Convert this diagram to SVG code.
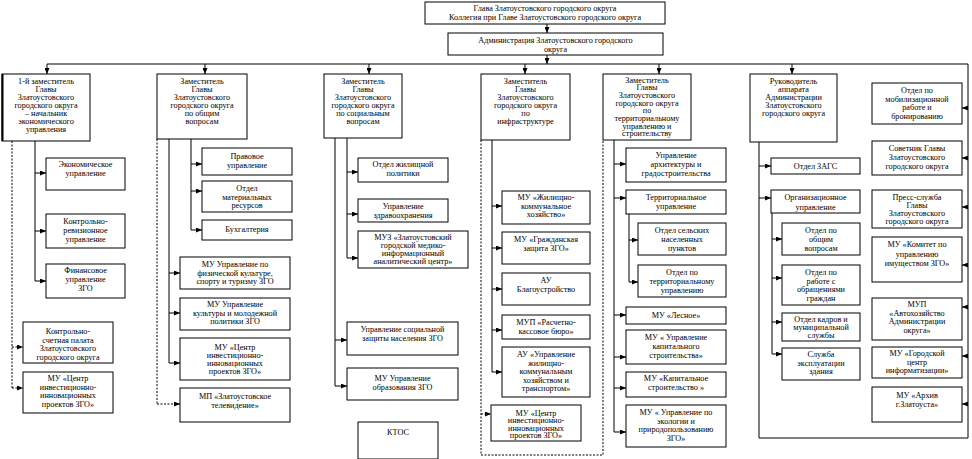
<svg xmlns="http://www.w3.org/2000/svg" width="972" height="459" viewBox="0 0 972 459">
<style>
.b{fill:#fff;stroke:#000;stroke-width:1}
.t{font-family:"Liberation Serif","Times New Roman",serif;font-size:8.2px;text-anchor:middle;fill:#000}
.c{stroke:#000;stroke-width:1;fill:none}
.d{stroke-dasharray:2 1.5}
</style>
<defs>
<marker id="a" markerWidth="6" markerHeight="5" refX="6" refY="2.5" orient="auto" markerUnits="userSpaceOnUse"><path d="M0,0 L6,2.5 L0,5z" fill="#000"/></marker>
</defs>
<rect width="972" height="459" fill="#fff"/>

<g id="connectors">
<line class="c" x1="547" y1="24" x2="547" y2="33" marker-end="url(#a)"/>
<line class="c" x1="547" y1="55" x2="547" y2="64" marker-end="url(#a)"/>
<polyline class="c" points="47,64 968,64 968,438 759,438"/>
<line class="c" x1="47" y1="64" x2="47" y2="74" marker-end="url(#a)"/>
<line class="c" x1="205" y1="64" x2="205" y2="74" marker-end="url(#a)"/>
<line class="c" x1="369" y1="64" x2="369" y2="74" marker-end="url(#a)"/>
<line class="c" x1="525" y1="64" x2="525" y2="74" marker-end="url(#a)"/>
<line class="c" x1="659" y1="64" x2="659" y2="74" marker-end="url(#a)"/>
<line class="c" x1="792" y1="64" x2="792" y2="74" marker-end="url(#a)"/>
<!-- col1 -->
<line class="c" x1="35" y1="141" x2="35" y2="281"/>
<line class="c" x1="35" y1="173" x2="46" y2="173" marker-end="url(#a)"/>
<line class="c" x1="35" y1="231" x2="46" y2="231" marker-end="url(#a)"/>
<line class="c" x1="35" y1="281" x2="46" y2="281" marker-end="url(#a)"/>
<line class="c d" x1="12" y1="141" x2="12" y2="388"/>
<line class="c d" x1="12" y1="347" x2="23" y2="347" marker-end="url(#a)"/>
<line class="c d" x1="12" y1="388" x2="23" y2="388" marker-end="url(#a)"/>
<!-- col2 -->
<line class="c" x1="191" y1="139" x2="191" y2="230"/>
<line class="c" x1="191" y1="164" x2="202" y2="164" marker-end="url(#a)"/>
<line class="c" x1="191" y1="191" x2="202" y2="191" marker-end="url(#a)"/>
<line class="c" x1="191" y1="230" x2="202" y2="230" marker-end="url(#a)"/>
<line class="c" x1="169" y1="139" x2="169" y2="363"/>
<line class="c" x1="169" y1="273" x2="180" y2="273" marker-end="url(#a)"/>
<line class="c" x1="169" y1="313" x2="180" y2="313" marker-end="url(#a)"/>
<line class="c" x1="169" y1="363" x2="180" y2="363" marker-end="url(#a)"/>
<line class="c d" x1="157" y1="139" x2="157" y2="404"/>
<line class="c d" x1="157" y1="404" x2="180" y2="404" marker-end="url(#a)"/>
<!-- col3 -->
<line class="c" x1="347" y1="138" x2="347" y2="258"/>
<line class="c" x1="347" y1="172" x2="358" y2="172" marker-end="url(#a)"/>
<line class="c" x1="347" y1="214" x2="358" y2="214" marker-end="url(#a)"/>
<line class="c" x1="347" y1="258" x2="358" y2="258" marker-end="url(#a)"/>
<line class="c" x1="335" y1="138" x2="335" y2="386"/>
<line class="c" x1="335" y1="340" x2="347" y2="340" marker-end="url(#a)"/>
<line class="c" x1="335" y1="386" x2="347" y2="386" marker-end="url(#a)"/>
<!-- col4 -->
<line class="c" x1="492" y1="140" x2="492" y2="372"/>
<line class="c" x1="492" y1="206" x2="502" y2="206" marker-end="url(#a)"/>
<line class="c" x1="492" y1="248" x2="502" y2="248" marker-end="url(#a)"/>
<line class="c" x1="492" y1="289" x2="502" y2="289" marker-end="url(#a)"/>
<line class="c" x1="492" y1="330" x2="502" y2="330" marker-end="url(#a)"/>
<line class="c" x1="492" y1="372" x2="502" y2="372" marker-end="url(#a)"/>
<polyline class="c d" points="481,140 481,455 603,455 603,140"/>
<line class="c d" x1="481" y1="414" x2="491" y2="414" marker-end="url(#a)"/>
<!-- col5 -->
<line class="c" x1="614" y1="140" x2="614" y2="432"/>
<line class="c" x1="614" y1="164" x2="626" y2="164" marker-end="url(#a)"/>
<line class="c" x1="614" y1="198" x2="626" y2="198" marker-end="url(#a)"/>
<line class="c" x1="614" y1="315" x2="626" y2="315" marker-end="url(#a)"/>
<line class="c" x1="614" y1="357" x2="626" y2="357" marker-end="url(#a)"/>
<line class="c" x1="614" y1="388" x2="626" y2="388" marker-end="url(#a)"/>
<line class="c" x1="614" y1="432" x2="626" y2="432" marker-end="url(#a)"/>
<line class="c" x1="629" y1="214" x2="629" y2="282"/>
<line class="c" x1="629" y1="240" x2="638" y2="240" marker-end="url(#a)"/>
<line class="c" x1="629" y1="282" x2="638" y2="282" marker-end="url(#a)"/>
<!-- col6 -->
<line class="c" x1="759" y1="142" x2="759" y2="438"/>
<line class="c" x1="759" y1="166" x2="771" y2="166" marker-end="url(#a)"/>
<line class="c" x1="759" y1="198" x2="771" y2="198" marker-end="url(#a)"/>
<line class="c" x1="772" y1="213" x2="772" y2="354"/>
<line class="c" x1="772" y1="239" x2="782" y2="239" marker-end="url(#a)"/>
<line class="c" x1="772" y1="278" x2="782" y2="278" marker-end="url(#a)"/>
<line class="c" x1="772" y1="322" x2="782" y2="322" marker-end="url(#a)"/>
<line class="c" x1="772" y1="354" x2="782" y2="354" marker-end="url(#a)"/>
<!-- col7 -->
<line class="c" x1="968" y1="108" x2="962" y2="108" marker-end="url(#a)"/>
<line class="c" x1="968" y1="158" x2="962" y2="158" marker-end="url(#a)"/>
<line class="c" x1="968" y1="207" x2="962" y2="207" marker-end="url(#a)"/>
<line class="c" x1="968" y1="265" x2="962" y2="265" marker-end="url(#a)"/>
<line class="c" x1="968" y1="307" x2="962" y2="307" marker-end="url(#a)"/>
<line class="c" x1="968" y1="356" x2="962" y2="356" marker-end="url(#a)"/>
<line class="c" x1="968" y1="404" x2="962" y2="404" marker-end="url(#a)"/>
</g>

<g id="glava"><rect class="b" x="425" y="2" width="240" height="22"/><text class="t" x="545"><tspan x="545" y="11">Глава Златоустовского городского округа</tspan><tspan x="545" y="20">Коллегия при Главе Златоустовского городского округа</tspan></text></g>
<g id="admin"><rect class="b" x="448" y="33" width="215" height="22"/><text class="t"><tspan x="555.5" y="43">Администрация Златоустовского городского</tspan><tspan x="555.5" y="52">округа</tspan></text></g>

<g id="c1h"><rect class="b" x="2" y="74" width="88" height="67"/><line x1="2.5" y1="74" x2="2.5" y2="141" stroke="#000" stroke-width="2"/><text class="t"><tspan x="46" y="84">1-й заместитель</tspan><tspan x="46" y="92">Главы</tspan><tspan x="46" y="100">Златоустовского</tspan><tspan x="46" y="108">городского округа</tspan><tspan x="46" y="116">– начальник</tspan><tspan x="46" y="124">экономического</tspan><tspan x="46" y="132">управления</tspan></text></g>
<g id="c1a"><rect class="b" x="46" y="158" width="79" height="32"/><text class="t"><tspan x="85.5" y="167">Экономическое</tspan><tspan x="85.5" y="176">управление</tspan></text></g>
<g id="c1b"><rect class="b" x="46" y="214" width="79" height="34"/><text class="t"><tspan x="85.5" y="224">Контрольно-</tspan><tspan x="85.5" y="233">ревизионное</tspan><tspan x="85.5" y="242">управление</tspan></text></g>
<g id="c1c"><rect class="b" x="46" y="264" width="79" height="34"/><text class="t"><tspan x="85.5" y="273">Финансовое</tspan><tspan x="85.5" y="282">управление</tspan><tspan x="85.5" y="291">ЗГО</tspan></text></g>
<g id="c1d"><rect class="b" x="23" y="322" width="90" height="41"/><text class="t"><tspan x="68" y="334">Контрольно-</tspan><tspan x="68" y="342.5">счетная палата</tspan><tspan x="68" y="351">Златоустовского</tspan><tspan x="68" y="359.5">городского округа</tspan></text></g>
<g id="c1e"><rect class="b" x="23" y="372" width="90" height="41"/><text class="t"><tspan x="68" y="381">МУ «Центр</tspan><tspan x="68" y="389.5">инвестиционно-</tspan><tspan x="68" y="398">инновационных</tspan><tspan x="68" y="406.5">проектов ЗГО»</tspan></text></g>

<g id="c2h"><rect class="b" x="157" y="74" width="90" height="65"/><text class="t"><tspan x="202" y="84">Заместитель</tspan><tspan x="202" y="92">Главы</tspan><tspan x="202" y="100">Златоустовского</tspan><tspan x="202" y="108">городского округа</tspan><tspan x="202" y="116">по общим</tspan><tspan x="202" y="124">вопросам</tspan></text></g>
<g id="c2a"><rect class="b" x="202" y="148" width="90" height="27"/><text class="t"><tspan x="247" y="159">Правовое</tspan><tspan x="247" y="167.5">управление</tspan></text></g>
<g id="c2b"><rect class="b" x="202" y="181" width="90" height="31"/><text class="t"><tspan x="247" y="191">Отдел</tspan><tspan x="247" y="199.5">материальных</tspan><tspan x="247" y="208">ресурсов</tspan></text></g>
<g id="c2c"><rect class="b" x="202" y="220" width="90" height="20"/><text class="t"><tspan x="247" y="232">Бухгалтерия</tspan></text></g>
<g id="c2d"><rect class="b" x="180" y="257" width="110" height="32"/><text class="t"><tspan x="235" y="267">МУ Управление по</tspan><tspan x="235" y="275.5">физической культуре,</tspan><tspan x="235" y="284">спорту и туризму ЗГО</tspan></text></g>
<g id="c2e"><rect class="b" x="180" y="298" width="110" height="32"/><text class="t"><tspan x="235" y="307">МУ Управление</tspan><tspan x="235" y="315.5">культуры и молодежной</tspan><tspan x="235" y="324">политики ЗГО</tspan></text></g>
<g id="c2f"><rect class="b" x="180" y="338" width="110" height="42"/><text class="t"><tspan x="235" y="350">МУ «Центр</tspan><tspan x="235" y="358">инвестиционно-</tspan><tspan x="235" y="366">инновационных</tspan><tspan x="235" y="374">проектов ЗГО»</tspan></text></g>
<g id="c2g"><rect class="b" x="180" y="388" width="110" height="34"/><text class="t"><tspan x="235" y="399">МП «Златоустовское</tspan><tspan x="235" y="407.5">телевидение»</tspan></text></g>

<g id="c3h"><rect class="b" x="324" y="74" width="78" height="64"/><text class="t"><tspan x="363" y="84">Заместитель</tspan><tspan x="363" y="92">Главы</tspan><tspan x="363" y="100">Златоустовского</tspan><tspan x="363" y="108">городского округа</tspan><tspan x="363" y="116">по социальным</tspan><tspan x="363" y="124">вопросам</tspan></text></g>
<g id="c3a"><rect class="b" x="358" y="158" width="90" height="24"/><text class="t"><tspan x="403" y="167">Отдел жилищной</tspan><tspan x="403" y="176">политики</tspan></text></g>
<g id="c3b"><rect class="b" x="358" y="199" width="90" height="23"/><text class="t"><tspan x="403" y="209">Управление</tspan><tspan x="403" y="217.5">здравоохранения</tspan></text></g>
<g id="c3c"><rect class="b" x="358" y="231" width="110" height="37"/><text class="t"><tspan x="413" y="240">МУЗ «Златоустовский</tspan><tspan x="413" y="248">городской медико-</tspan><tspan x="413" y="256">информационный</tspan><tspan x="413" y="264">аналитический центр»</tspan></text></g>
<g id="c3d"><rect class="b" x="347" y="322" width="111" height="33"/><text class="t"><tspan x="402.5" y="332">Управление социальной</tspan><tspan x="402.5" y="341">защиты населения ЗГО</tspan></text></g>
<g id="c3e"><rect class="b" x="347" y="368" width="111" height="32"/><text class="t"><tspan x="402.5" y="381">МУ Управление</tspan><tspan x="402.5" y="389.5">образования ЗГО</tspan></text></g>
<g id="c3f"><rect class="b" x="358" y="422" width="80" height="37"/><text class="t"><tspan x="398" y="435">КТОС</tspan></text></g>

<g id="c4h"><rect class="b" x="481" y="74" width="89" height="66"/><text class="t"><tspan x="525.5" y="84">Заместитель</tspan><tspan x="525.5" y="92">Главы</tspan><tspan x="525.5" y="100">Златоустовского</tspan><tspan x="525.5" y="108">городского округа</tspan><tspan x="525.5" y="116">по</tspan><tspan x="525.5" y="124">инфраструктуре</tspan></text></g>
<g id="c4a"><rect class="b" x="502" y="191" width="88" height="33"/><text class="t"><tspan x="546" y="200">МУ «Жилищно-</tspan><tspan x="546" y="208.5">коммунальное</tspan><tspan x="546" y="217">хозяйство»</tspan></text></g>
<g id="c4b"><rect class="b" x="502" y="232" width="88" height="32"/><text class="t"><tspan x="546" y="242">МУ «Гражданская</tspan><tspan x="546" y="250.5">защита ЗГО»</tspan></text></g>
<g id="c4c"><rect class="b" x="502" y="273" width="88" height="32"/><text class="t"><tspan x="546" y="283">АУ</tspan><tspan x="546" y="292">Благоустройство</tspan></text></g>
<g id="c4d"><rect class="b" x="502" y="315" width="88" height="24"/><text class="t"><tspan x="546" y="325">МУП «Расчетно-</tspan><tspan x="546" y="333.5">кассовое бюро»</tspan></text></g>
<g id="c4e"><rect class="b" x="502" y="347" width="88" height="50"/><text class="t"><tspan x="546" y="357">АУ «Управление</tspan><tspan x="546" y="365.5">жилищно-</tspan><tspan x="546" y="374">коммунальным</tspan><tspan x="546" y="382.5">хозяйством и</tspan><tspan x="546" y="391">транспортом»</tspan></text></g>
<g id="c4f"><rect class="b" x="491" y="405" width="90" height="36"/><text class="t"><tspan x="536" y="415.5">МУ «Центр</tspan><tspan x="536" y="423">инвестиционно-</tspan><tspan x="536" y="430.5">инновационных</tspan><tspan x="536" y="438">проектов ЗГО»</tspan></text></g>

<g id="c5h"><rect class="b" x="603" y="74" width="88" height="66"/><text class="t"><tspan x="647" y="82.5">Заместитель</tspan><tspan x="647" y="90.2">Главы</tspan><tspan x="647" y="97.9">Златоустовского</tspan><tspan x="647" y="105.6">городского округа</tspan><tspan x="647" y="113.3">по</tspan><tspan x="647" y="121">территориальному</tspan><tspan x="647" y="128.7">управлению и</tspan><tspan x="647" y="136.4">строительству</tspan></text></g>
<g id="c5a"><rect class="b" x="626" y="148" width="100" height="34"/><text class="t"><tspan x="676" y="158">Управление</tspan><tspan x="676" y="167">архитектуры и</tspan><tspan x="676" y="176">градостроительства</tspan></text></g>
<g id="c5b"><rect class="b" x="626" y="190" width="100" height="24"/><text class="t"><tspan x="676" y="200">Территориальное</tspan><tspan x="676" y="209">управление</tspan></text></g>
<g id="c5c"><rect class="b" x="638" y="223" width="88" height="32"/><text class="t"><tspan x="682" y="233">Отдел сельских</tspan><tspan x="682" y="242">населенных</tspan><tspan x="682" y="251">пунктов</tspan></text></g>
<g id="c5d"><rect class="b" x="638" y="265" width="88" height="32"/><text class="t"><tspan x="682" y="275">Отдел по</tspan><tspan x="682" y="284">территориальному</tspan><tspan x="682" y="292.5">управлению</tspan></text></g>
<g id="c5e"><rect class="b" x="626" y="307" width="100" height="17"/><text class="t"><tspan x="676" y="318">МУ «Лесное»</tspan></text></g>
<g id="c5f"><rect class="b" x="626" y="330" width="100" height="34"/><text class="t"><tspan x="676" y="340">МУ « Управление</tspan><tspan x="676" y="349">капитального</tspan><tspan x="676" y="358">строительства»</tspan></text></g>
<g id="c5g"><rect class="b" x="626" y="372" width="100" height="25"/><text class="t"><tspan x="676" y="381">МУ «Капитальное</tspan><tspan x="676" y="390">строительство »</tspan></text></g>
<g id="c5i"><rect class="b" x="626" y="405" width="100" height="42"/><text class="t"><tspan x="676" y="415">МУ « Управление по</tspan><tspan x="676" y="423.5">экологии и</tspan><tspan x="676" y="432">природопользованию</tspan><tspan x="676" y="440.5">ЗГО»</tspan></text></g>

<g id="c6h"><rect class="b" x="750" y="74" width="87" height="68"/><text class="t"><tspan x="793.5" y="84">Руководитель</tspan><tspan x="793.5" y="92">аппарата</tspan><tspan x="793.5" y="100">Администрации</tspan><tspan x="793.5" y="108">Златоустовского</tspan><tspan x="793.5" y="116">городского округа</tspan></text></g>
<g id="c6a"><rect class="b" x="771" y="158" width="89" height="16"/><text class="t"><tspan x="815.5" y="169">Отдел ЗАГС</tspan></text></g>
<g id="c6b"><rect class="b" x="771" y="190" width="89" height="23"/><text class="t"><tspan x="815.5" y="200">Организационное</tspan><tspan x="815.5" y="209.5">управление</tspan></text></g>
<g id="c6c"><rect class="b" x="782" y="223" width="78" height="32"/><text class="t"><tspan x="821" y="233">Отдел по</tspan><tspan x="821" y="242">общим</tspan><tspan x="821" y="251">вопросам</tspan></text></g>
<g id="c6d"><rect class="b" x="782" y="265" width="78" height="40"/><text class="t"><tspan x="821" y="275">Отдел по</tspan><tspan x="821" y="283.5">работе с</tspan><tspan x="821" y="292">обращениями</tspan><tspan x="821" y="300.5">граждан</tspan></text></g>
<g id="c6e"><rect class="b" x="782" y="313" width="78" height="28"/><text class="t"><tspan x="821" y="321.5">Отдел кадров и</tspan><tspan x="821" y="329.5">муниципальной</tspan><tspan x="821" y="337.5">службы</tspan></text></g>
<g id="c6f"><rect class="b" x="782" y="348" width="78" height="32"/><text class="t"><tspan x="821" y="357">Служба</tspan><tspan x="821" y="366">эксплуатации</tspan><tspan x="821" y="374">здания</tspan></text></g>

<g id="c7a"><rect class="b" x="872" y="83" width="90" height="41"/><text class="t"><tspan x="917" y="93">Отдел по</tspan><tspan x="917" y="101.5">мобилизационной</tspan><tspan x="917" y="110">работе и</tspan><tspan x="917" y="118.5">бронированию</tspan></text></g>
<g id="c7b"><rect class="b" x="872" y="141" width="90" height="34"/><text class="t"><tspan x="917" y="151">Советник Главы</tspan><tspan x="917" y="160">Златоустовского</tspan><tspan x="917" y="168.5">городского округа</tspan></text></g>
<g id="c7c"><rect class="b" x="872" y="190" width="90" height="38"/><text class="t"><tspan x="917" y="200">Пресс-служба</tspan><tspan x="917" y="208">Главы</tspan><tspan x="917" y="216">Златоустовского</tspan><tspan x="917" y="224">городского округа</tspan></text></g>
<g id="c7d"><rect class="b" x="872" y="237" width="90" height="45"/><text class="t"><tspan x="917" y="247">МУ «Комитет по</tspan><tspan x="917" y="256.5">управлению</tspan><tspan x="917" y="266">имуществом ЗГО»</tspan></text></g>
<g id="c7e"><rect class="b" x="872" y="298" width="90" height="42"/><text class="t"><tspan x="917" y="307">МУП</tspan><tspan x="917" y="315.5">«Автохозяйство</tspan><tspan x="917" y="324">Администрации</tspan><tspan x="917" y="332.5">округа»</tspan></text></g>
<g id="c7f"><rect class="b" x="872" y="347" width="90" height="31"/><text class="t"><tspan x="917" y="356">МУ «Городской</tspan><tspan x="917" y="364.5">центр</tspan><tspan x="917" y="373">информатизации»</tspan></text></g>
<g id="c7g"><rect class="b" x="872" y="387" width="90" height="35"/><text class="t"><tspan x="917" y="398">МУ «Архив</tspan><tspan x="917" y="407">г.Златоуста»</tspan></text></g>
</svg>
